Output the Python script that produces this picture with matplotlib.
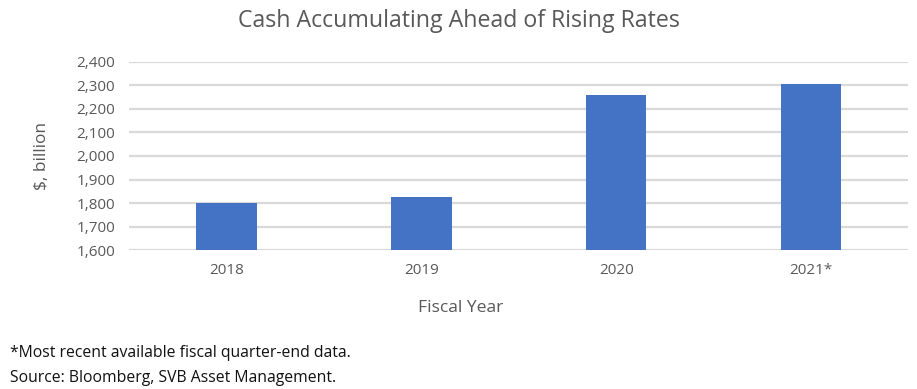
import matplotlib.pyplot as plt
from matplotlib.ticker import FuncFormatter

years = ["2018", "2019", "2020", "2021*"]
cash = [1801, 1827, 2260, 2307]

plt.rcParams['font.family'] = ['Open Sans', 'DejaVu Sans']
grey = "#595959"

fig = plt.figure(figsize=(9.17, 3.89), dpi=100)
ax = fig.add_axes([0.1407, 0.357, 0.850, 0.484])

ax.bar(years, cash, width=0.31, color="#4472c4", zorder=2)
ax.set_ylim(1600, 2400)
ax.set_xlim(-0.5, 3.5)
ax.set_yticks(range(1600, 2401, 100))
ax.yaxis.set_major_formatter(FuncFormatter(lambda v, p: f"{int(v):,}"))
ax.grid(axis="y", color="#d9d9d9", linewidth=1.6, zorder=0)
for s in ax.spines.values():
    s.set_visible(False)
ax.tick_params(length=0, labelsize=11, colors=grey, pad=9)
ax.tick_params(axis="y", pad=10)

fig.text(0.046, 0.60, "$, billion", rotation=90, ha="center", va="center",
         fontsize=12.4, color=grey)
fig.text(0.502, 0.208, "Fiscal Year", ha="center", va="center", fontsize=12.6, color=grey)
fig.text(0.5, 0.945, "Cash Accumulating Ahead of Rising Rates", ha="center", va="center",
         fontsize=16.7, color=grey)

fig.text(0.011, 0.092, "*Most recent available fiscal quarter-end data.", fontsize=11.3,
         color="#111111", va="center")
fig.text(0.011, 0.028, "Source: Bloomberg, SVB Asset Management.", fontsize=11.3,
         color="#111111", va="center")

fig.savefig("out.png", dpi=100)
